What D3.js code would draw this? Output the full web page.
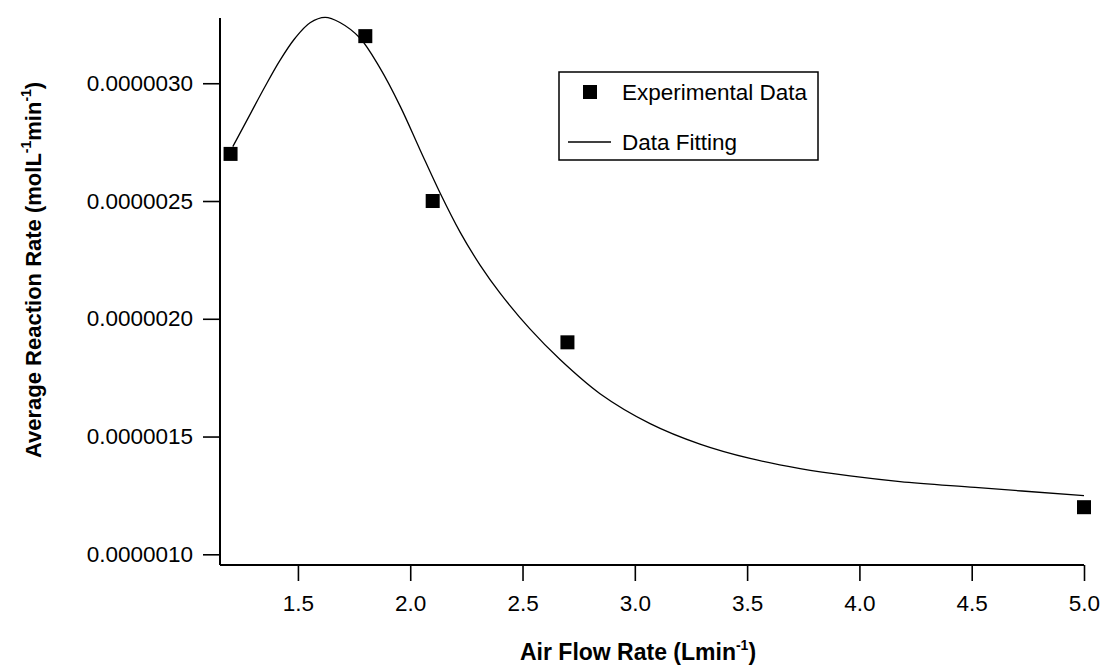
<!DOCTYPE html>
<html>
<head>
<meta charset="utf-8">
<script src="https://cdn.jsdelivr.net/npm/d3@7"></script>
<style>
  html, body { margin: 0; padding: 0; background: #fff; }
  svg { display: block; font-family: "Liberation Sans", Arial, sans-serif; }
</style>
</head>
<body>
<svg id="chart" width="1102" height="665"></svg>
<script>
// Measured points: air flow rate (L/min) vs average reaction rate (mol/L/min)
const flowRates = [1.2, 1.8, 2.1, 2.7, 5.0];
const reactionRates = [0.0000027, 0.0000032, 0.0000025, 0.0000019, 0.0000012];

// Fitted curve, sampled along the flow-rate axis
const fitFlow = [1.210, 1.287, 1.353, 1.420, 1.487, 1.554, 1.621, 1.687, 1.776, 1.865, 1.955, 2.044, 2.133, 2.222, 2.311, 2.400, 2.533, 2.667, 2.845, 3.068, 3.290, 3.513, 3.736, 3.958, 4.181, 4.515, 5.0];
const fitRate = [2.731e-6, 2.868e-6, 2.985e-6, 3.097e-6, 3.191e-6, 3.257e-6, 3.280e-6, 3.258e-6, 3.192e-6, 3.065e-6, 2.903e-6, 2.717e-6, 2.534e-6, 2.368e-6, 2.228e-6, 2.109e-6, 1.957e-6, 1.827e-6, 1.682e-6, 1.555e-6, 1.468e-6, 1.407e-6, 1.364e-6, 1.333e-6, 1.309e-6, 1.284e-6, 1.249e-6];

// Axis ticks
const xTicks = [1.5, 2.0, 2.5, 3.0, 3.5, 4.0, 4.5, 5.0];
const yTicks = [0.0000010, 0.0000015, 0.0000020, 0.0000025, 0.0000030];

const legendLabels = ["Experimental Data", "Data Fitting"];

const svg = d3.select("#chart");

const plotLeft = 220, plotRight = 1084, plotTop = 18, plotBottom = 565;

const x = d3.scaleLinear().domain([1.153, 5.0]).range([plotLeft, plotRight]);
const y = d3.scaleLinear().domain([0.9546e-6, 3.277e-6]).range([plotBottom, plotTop]);

// Bottom axis
const xAxis = svg.append("g")
  .attr("transform", `translate(0,${plotBottom})`)
  .call(d3.axisBottom(x).tickValues(xTicks).tickFormat(d3.format(".1f"))
    .tickSize(16).tickSizeOuter(0).tickPadding(14));
xAxis.select(".domain").attr("stroke", "#000").attr("stroke-width", 2)
  .attr("d", `M${plotLeft},0H${plotRight}`);
xAxis.selectAll(".tick line").attr("stroke", "#000").attr("stroke-width", 1.6);
xAxis.selectAll(".tick text").attr("fill", "#000").style("font-size", "22.5px");

// Left axis
const yAxis = svg.append("g")
  .attr("transform", `translate(${plotLeft},0)`)
  .call(d3.axisLeft(y).tickValues(yTicks).tickFormat(d3.format(".7f"))
    .tickSize(17).tickSizeOuter(0).tickPadding(10));
yAxis.select(".domain").attr("stroke", "#000").attr("stroke-width", 2)
  .attr("d", `M0,${plotTop}V${plotBottom}`);
yAxis.selectAll(".tick line").attr("stroke", "#000").attr("stroke-width", 1.6);
yAxis.selectAll(".tick text").attr("fill", "#000").style("font-size", "22.5px");

// Fitted curve
const line = d3.line()
  .x((d, i) => x(fitFlow[i]))
  .y((d, i) => y(fitRate[i]))
  .curve(d3.curveCatmullRom.alpha(0.5));

svg.append("path")
  .datum(fitFlow)
  .attr("d", line)
  .attr("fill", "none")
  .attr("stroke", "#000")
  .attr("stroke-width", 1.3);

// Experimental points
const sq = 14;
svg.append("g").selectAll("rect")
  .data(flowRates)
  .join("rect")
  .attr("x", (d) => x(d) - sq / 2)
  .attr("y", (d, i) => y(reactionRates[i]) - sq / 2)
  .attr("width", sq)
  .attr("height", sq)
  .attr("fill", "#000");

// Axis titles
const xTitle = svg.append("text")
  .attr("x", 520).attr("y", 660)
  .attr("fill", "#000")
  .style("font-size", "23px").style("font-weight", "bold");
xTitle.append("tspan").text("Air Flow Rate (Lmin");
xTitle.append("tspan").attr("dy", -10).style("font-size", "14px").text("-1");
xTitle.append("tspan").attr("dy", 10).text(")");

const yTitle = svg.append("text")
  .attr("transform", "translate(41,458) rotate(-90)")
  .attr("fill", "#000")
  .style("font-size", "22px").style("font-weight", "bold");
yTitle.append("tspan").text("Average Reaction Rate (molL");
yTitle.append("tspan").attr("dy", -10).style("font-size", "14px").text("-1");
yTitle.append("tspan").attr("dy", 10).text("min");
yTitle.append("tspan").attr("dy", -10).style("font-size", "14px").text("-1");
yTitle.append("tspan").attr("dy", 10).text(")");

// Legend
const legend = svg.append("g");
legend.append("rect")
  .attr("x", 559).attr("y", 72).attr("width", 259).attr("height", 88)
  .attr("fill", "#fff").attr("stroke", "#000").attr("stroke-width", 1.5);
legend.append("rect")
  .attr("x", 590 - sq / 2).attr("y", 92 - sq / 2).attr("width", sq).attr("height", sq)
  .attr("fill", "#000");
legend.append("line")
  .attr("x1", 568).attr("x2", 611).attr("y1", 142).attr("y2", 142)
  .attr("stroke", "#000").attr("stroke-width", 1.5);
legend.selectAll("text.lbl")
  .data(legendLabels)
  .join("text")
  .attr("class", "lbl")
  .attr("x", 622)
  .attr("y", (d, i) => 92 + i * 50)
  .attr("dy", "0.36em")
  .attr("fill", "#000")
  .style("font-size", "22.5px")
  .text((d) => d);
</script>
</body>
</html>
